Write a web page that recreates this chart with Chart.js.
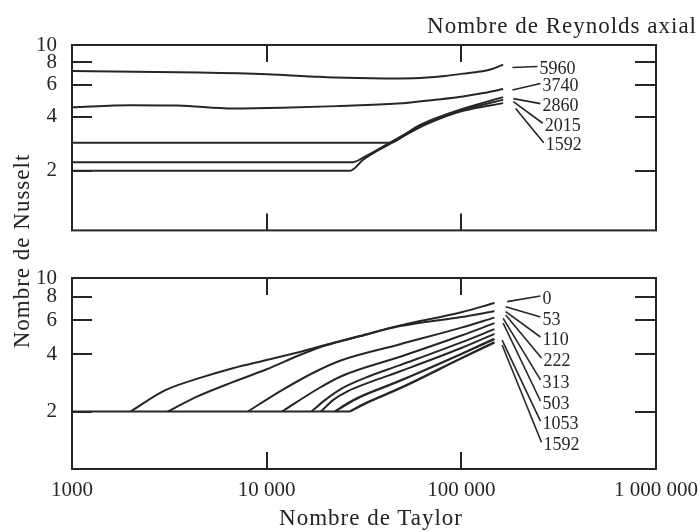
<!DOCTYPE html>
<html lang="fr">
<head>
<meta charset="utf-8">
<title>Nombre de Nusselt / Nombre de Taylor</title>
<script src="https://cdn.jsdelivr.net/npm/chart.js@4.4.1/dist/chart.umd.min.js"></script>
<style>
  html, body { margin: 0; padding: 0; background: #fff; }
  #page { position: relative; width: 699px; height: 532px; overflow: hidden; background: #fff; }
  #page canvas { position: absolute; left: 0; }
  #topPanel { top: 0; }
  #bottomPanel { top: 250px; }
  .title {
    position: absolute; white-space: nowrap; color: #232323;
    font-family: 'Liberation Serif', 'Times New Roman', serif;
    font-size: 23px; line-height: 24px; letter-spacing: 1px;
  }
  #reTitle { right: 2px; top: 14px; }
  #taTitle { left: 221px; width: 300px; top: 506px; text-align: center; }
  #nuTitle { left: -98px; top: 239px; width: 240px; text-align: center; transform: rotate(-90deg); }
</style>
</head>
<body>
<div id="page">
  <canvas id="topPanel" width="699" height="250"></canvas>
  <canvas id="bottomPanel" width="699" height="282"></canvas>
  <div class="title" id="reTitle">Nombre de Reynolds axial</div>
  <div class="title" id="taTitle">Nombre de Taylor</div>
  <div class="title" id="nuTitle">Nombre de Nusselt</div>
</div>
<script>
// axes
const taylorTicks = [1000, 10000, 100000, 1000000];
const taylorTickLabels = ['1000', '10 000', '100 000', '1 000 000'];
const nusseltTicks = [2, 4, 6, 8, 10];

// ── upper panel: axial Reynolds number ──
const re5960T  = [1000, 4500, 10000, 17000, 22000, 40000, 57000, 80000, 102000, 125000, 141000, 164000];
const re5960Nu = [7.16, 7.02, 6.87, 6.68, 6.59, 6.52, 6.54, 6.70, 6.93, 7.12, 7.31, 7.78];
const re3740T  = [1000, 2000, 3500, 6700, 12000, 23000, 47000, 75000, 102000, 130000, 164000];
const re3740Nu = [4.50, 4.62, 4.60, 4.43, 4.47, 4.57, 4.72, 4.97, 5.17, 5.40, 5.69];
const re2860T  = [1000, 43000, 50000, 56600, 69200, 102000, 164000];
const re2860Nu = [2.86, 2.86, 3.10, 3.42, 3.80, 4.42, 5.13];
const re2015T  = [1000, 27700, 31300, 43000, 56600, 69200, 102000, 164000];
const re2015Nu = [2.23, 2.23, 2.36, 2.86, 3.38, 3.75, 4.37, 4.95];
const re1592T  = [1000, 26800, 31300, 43000, 56600, 69200, 102000, 164000];
const re1592Nu = [2.00, 2.00, 2.30, 2.82, 3.33, 3.70, 4.30, 4.75];

// leader lines from curve ends to their labels
const re5960LeadT = [183000, 246000], re5960LeadNu = [7.50, 7.59];
const re3740LeadT = [183000, 255000], re3740LeadNu = [5.62, 6.11];
const re2860LeadT = [185000, 255000], re2860LeadNu = [5.03, 4.72];
const re2015LeadT = [185000, 262000], re2015LeadNu = [4.84, 3.67];
const re1592LeadT = [190000, 265000], re1592LeadNu = [4.43, 2.86];

// ── lower panel: branches off the Nu = 2 line ──
const baseT  = [1000, 26800];
const baseNu = [2, 2];
const b0T     = [2000, 3000, 4500, 6700, 10000, 14800, 20000, 30000, 48500, 100000, 148000];
const b0Nu    = [2.00, 2.58, 2.99, 3.37, 3.72, 4.10, 4.46, 4.97, 5.65, 6.62, 7.40];
const b53T    = [3100, 4500, 6700, 10000, 14800, 20000, 30000, 48500, 100000, 148000];
const b53Nu   = [2.00, 2.42, 2.85, 3.33, 3.95, 4.43, 4.95, 5.60, 6.25, 6.70];
const b110T   = [8000, 12000, 18000, 24000, 48500, 100000, 148000];
const b110Nu  = [2.00, 2.59, 3.25, 3.70, 4.50, 5.50, 6.20];
const b222T   = [12000, 18000, 24000, 48500, 100000, 148000];
const b222Nu  = [2.00, 2.60, 3.05, 3.87, 5.00, 5.80];
const b313T   = [17000, 20000, 24000, 32000, 48500, 100000, 148000];
const b313Nu  = [2.00, 2.30, 2.62, 3.00, 3.50, 4.60, 5.40];
const b503T   = [19000, 22000, 26000, 34000, 48500, 100000, 148000];
const b503Nu  = [2.00, 2.30, 2.55, 2.85, 3.25, 4.30, 5.10];
const b1053T  = [22500, 26000, 30000, 48500, 100000, 148000];
const b1053Nu = [2.00, 2.20, 2.38, 2.90, 4.00, 4.80];
const b1592T  = [26800, 32000, 48500, 100000, 148000];
const b1592Nu = [2.00, 2.20, 2.65, 3.80, 4.60];

const b0LeadT    = [172000, 255000], b0LeadNu    = [7.52, 8.05];
const b53LeadT   = [169000, 255000], b53LeadNu   = [7.08, 6.25];
const b110LeadT  = [169000, 255000], b110LeadNu  = [6.66, 4.91];
const b222LeadT  = [169000, 258000], b222LeadNu  = [6.40, 3.81];
const b313LeadT  = [164000, 255000], b313LeadNu  = [6.15, 2.93];
const b503LeadT  = [164000, 255000], b503LeadNu  = [5.81, 2.27];
const b1053LeadT = [162000, 255000], b1053LeadNu = [4.73, 1.78];
const b1592LeadT = [162000, 258000], b1592LeadNu = [4.46, 1.38];

const ink = '#262626';
const serif = "'Liberation Serif', 'Times New Roman', serif";

const pts = (ts, ns) => ts.map((t, i) => ({ x: t, y: ns[i] }));

function curve(ts, ns, width) {
  return {
    data: pts(ts, ns), borderColor: ink, borderWidth: width || 2,
    pointRadius: 0, cubicInterpolationMode: 'monotone', fill: false,
  };
}

function leader(ts, ns, label) {
  return {
    data: pts(ts, ns), borderColor: ink, borderWidth: 1.6,
    pointRadius: 0, tension: 0, fill: false, endLabel: label,
  };
}

// frame, inward tick marks and the labels at the end of each leader
const framePlugin = {
  id: 'frame',
  afterDatasetsDraw(chart) {
    const { ctx, chartArea: a, scales: { x, y } } = chart;
    ctx.save();
    ctx.strokeStyle = ink;
    ctx.lineWidth = 2;
    ctx.strokeRect(a.left, a.top, a.right - a.left, a.bottom - a.top);
    const seg = (x1, y1, x2, y2) => { ctx.beginPath(); ctx.moveTo(x1, y1); ctx.lineTo(x2, y2); ctx.stroke(); };
    nusseltTicks.forEach(v => {
      if (v >= y.max) return;
      const py = Math.round(y.getPixelForValue(v));
      seg(a.left, py, a.left + 20, py);
      seg(a.right - 21, py, a.right, py);
    });
    taylorTicks.forEach(t => {
      if (t <= x.min || t >= x.max) return;
      const px = Math.round(x.getPixelForValue(t));
      seg(px, a.top, px, a.top + 17);
      seg(px, a.bottom - 17, px, a.bottom);
    });
    ctx.fillStyle = ink;
    ctx.font = '18px ' + serif;
    ctx.textAlign = 'left';
    ctx.textBaseline = 'middle';
    chart.data.datasets.forEach((ds, i) => {
      if (!ds.endLabel) return;
      const pts = chart.getDatasetMeta(i).data;
      const p = pts[pts.length - 1];
      ctx.fillText(ds.endLabel, p.x + 2, p.y + 3);
    });
    ctx.restore();
  },
};

function panel(canvas, datasets, yMin, padTop, padBottom, xAxisHeight, showXLabels) {
  return new Chart(canvas, {
    type: 'line',
    data: { datasets },
    plugins: [framePlugin],
    options: {
      responsive: false,
      animation: false,
      layout: { padding: { left: 0, top: padTop, right: 43, bottom: padBottom } },
      plugins: { legend: { display: false }, tooltip: { enabled: false } },
      scales: {
        x: {
          type: 'logarithmic', min: 1000, max: 1000000,
          display: showXLabels,
          grid: { display: false }, border: { display: false },
          afterBuildTicks: s => { s.ticks = taylorTicks.map(v => ({ value: v })); },
          afterFit: s => { s.height = xAxisHeight; },
          ticks: {
            autoSkip: false, maxRotation: 0, padding: 1, color: ink,
            font: { family: serif, size: 21 },
            callback: v => taylorTickLabels[taylorTicks.indexOf(v)],
          },
        },
        y: {
          type: 'logarithmic', min: yMin, max: 10,
          grid: { display: false }, border: { display: false },
          afterBuildTicks: s => { s.ticks = nusseltTicks.map(v => ({ value: v })); },
          afterFit: s => { s.width = 72; },
          ticks: {
            autoSkip: false, padding: 7, color: ink,
            font: { family: serif, size: 21 },
            callback: v => String(v),
          },
        },
      },
    },
  });
}

panel(document.getElementById('topPanel'), [
  curve(re5960T, re5960Nu), curve(re3740T, re3740Nu),
  curve(re2860T, re2860Nu), curve(re2015T, re2015Nu), curve(re1592T, re1592Nu),
  leader(re5960LeadT, re5960LeadNu, '5960'),
  leader(re3740LeadT, re3740LeadNu, '3740'),
  leader(re2860LeadT, re2860LeadNu, '2860'),
  leader(re2015LeadT, re2015LeadNu, '2015'),
  leader(re1592LeadT, re1592LeadNu, '1592'),
], 0.93, 45, 15, 0, false);

panel(document.getElementById('bottomPanel'), [
  curve(baseT, baseNu),
  curve(b0T, b0Nu), curve(b53T, b53Nu), curve(b110T, b110Nu), curve(b222T, b222Nu),
  curve(b313T, b313Nu), curve(b503T, b503Nu), curve(b1053T, b1053Nu, 2.4), curve(b1592T, b1592Nu, 2.4),
  leader(b0LeadT, b0LeadNu, '0'),
  leader(b53LeadT, b53LeadNu, '53'),
  leader(b110LeadT, b110LeadNu, '110'),
  leader(b222LeadT, b222LeadNu, '222'),
  leader(b313LeadT, b313LeadNu, '313'),
  leader(b503LeadT, b503LeadNu, '503'),
  leader(b1053LeadT, b1053LeadNu, '1053'),
  leader(b1592LeadT, b1592LeadNu, '1592'),
], 1, 28, 0, 63, true);
</script>
</body>
</html>
